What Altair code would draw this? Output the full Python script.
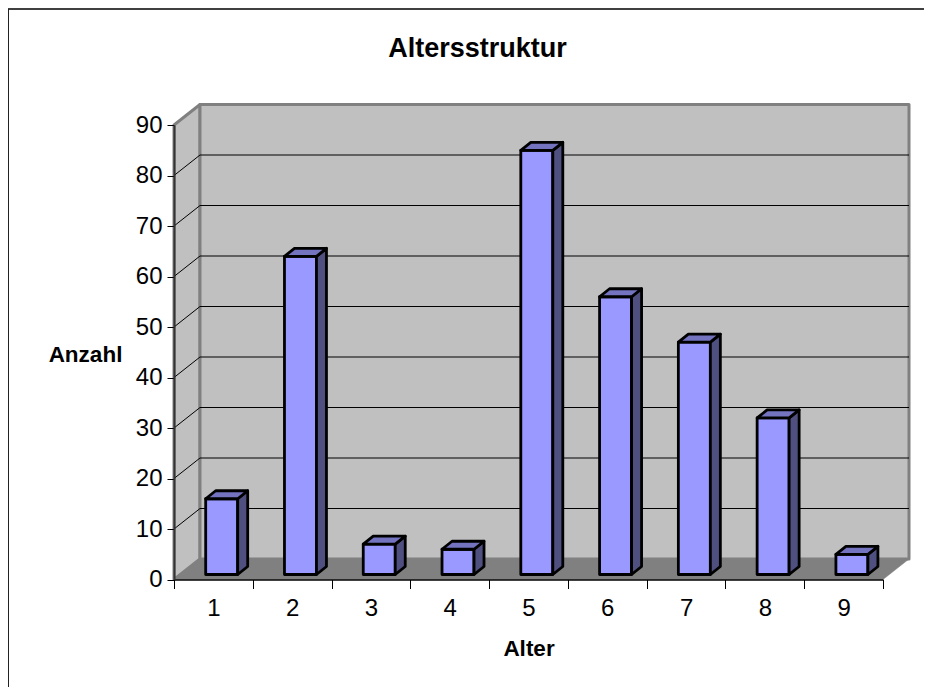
import altair as alt
import pandas as pd

# Values
categories = [1, 2, 3, 4, 5, 6, 7, 8, 9]
counts = [15, 63, 6, 5, 84, 55, 46, 31, 4]
y_ticks = [0, 10, 20, 30, 40, 50, 60, 70, 80, 90]

# Geometry of the pseudo 3D box, in data units
PLOT_W, PLOT_H = 709, 454.5
XU = PLOT_W / 9          # pixels per category
YU = PLOT_H / 90         # pixels per count
WALL_DX = 26 / XU
WALL_DY = 20.5 / YU
BAR_DX = 10 / XU
BAR_DY = 8 / YU
BAR_W = 32 / XU
BAR_SHIFT = 8.3 / XU     # bar centre relative to category centre
BAR_BASE = 5 / YU        # bar base above the axis

FONT = "Liberation Sans"

# ---- polygons as two-edged areas -------------------------------------------
def para_rows(name, rows):
    return [dict(id=name, x=a, lo=b, hi=c) for a, b, c in rows]

wall_rows = para_rows("left", [(0, 0, 90), (WALL_DX, WALL_DY, 90 + WALL_DY)]) + \
    para_rows("back", [(WALL_DX, WALL_DY, 90 + WALL_DY), (9 + WALL_DX, WALL_DY, 90 + WALL_DY)])
walls = pd.DataFrame(wall_rows)

floor = pd.DataFrame(para_rows("floor", [
    (0, 0, 0), (WALL_DX, 0, WALL_DY), (9, 0, WALL_DY), (9 + WALL_DX, WALL_DY, WALL_DY)]))

grid_rows = []
for v in y_ticks[1:-1]:
    grid_rows += [dict(id=v, k=0, x=0, y=v),
                  dict(id=v, k=1, x=WALL_DX, y=v + WALL_DY),
                  dict(id=v, k=2, x=9 + WALL_DX, y=v + WALL_DY)]
grid = pd.DataFrame(grid_rows)

side_rows, top_rows = [], []
for c, v in zip(categories, counts):
    x0 = c - 0.5 + BAR_SHIFT - BAR_W / 2
    x1 = x0 + BAR_W
    low = BAR_BASE
    high = BAR_BASE + v
    side_rows += para_rows(c, [(x1, low, high), (x1 + BAR_DX, low + BAR_DY, high + BAR_DY)])
    top_rows += para_rows(c, [(x0, high, high), (x0 + BAR_DX, high, high + BAR_DY),
                              (x1, high, high + BAR_DY), (x1 + BAR_DX, high + BAR_DY, high + BAR_DY)])
sides = pd.DataFrame(side_rows)
tops = pd.DataFrame(top_rows)
bars = pd.DataFrame({"Alter": categories, "Anzahl": counts, "base": BAR_BASE})
bars["top"] = bars["Anzahl"] + bars["base"]

yscale = alt.Scale(domain=[0, 90], nice=False)
y_axis = alt.Axis(
    title="Anzahl", titleFont=FONT, titleFontSize=22.5, titleFontWeight="bold", titleColor="#000000",
    titleAngle=0, titleAlign="center", titleBaseline="middle", titleX=-89, titleY=229,
    values=y_ticks, labelFont=FONT, labelFontSize=24, labelColor="#000000", labelPadding=5,
    tickSize=7, tickColor="#000000", tickWidth=1, domainColor="#333333", domainWidth=2, grid=False,
    zindex=1)

xq = alt.X("x:Q", scale=alt.Scale(domain=[0, 9], nice=False), axis=None)
yq = alt.Y("hi:Q", scale=yscale, axis=y_axis)
y2q = alt.Y2("lo:Q")

def polygons(df, fill, stroke, width):
    return alt.Chart(df).mark_area(
        fill=fill, stroke=stroke, strokeWidth=width, strokeJoin="round",
        clip=False, interpolate="linear", orient="vertical"
    ).encode(x=xq, y=yq, y2=y2q, detail="id:N")

wall_layer = polygons(walls, "#C0C0C0", "#808080", 3)
floor_layer = polygons(floor, "#808080", "#808080", 0.5)
grid_layer = alt.Chart(grid).mark_line(color="#000000", strokeWidth=1).encode(
    x=xq, y=alt.Y("y:Q", scale=yscale, axis=y_axis), detail="id:N", order="k:Q")
side_layer = polygons(sides, "#4F4F80", "#000000", 2.8)
top_layer = polygons(tops, "#7373BF", "#000000", 2.8)

front_layer = alt.Chart(bars).mark_bar(
    size=32, xOffset=8.3, fill="#9999FF", stroke="#000000", strokeWidth=2.8, strokeJoin="round"
).encode(
    x=alt.X("Alter:O", scale=alt.Scale(paddingInner=0, paddingOuter=0), axis=alt.Axis(
        title="Alter", titleFont=FONT, titleFontSize=22.5, titleFontWeight="bold", titleColor="#000000",
        titlePadding=17, labelFont=FONT, labelFontSize=24, labelColor="#000000", labelAngle=0,
        labelPadding=8, tickBand="extent", tickSize=9, tickColor="#000000", tickWidth=1,
        domainColor="#000000", domainWidth=1.5, grid=False, zindex=1)),
    y=alt.Y("top:Q", scale=yscale, axis=y_axis),
    y2="base:Q",
)

# outer frame of the chart area: only its left and top edges reach the page
frame_data = pd.DataFrame({"a": [0]})
frame_top = alt.Chart(frame_data).mark_rule(color="#000000", strokeWidth=1.5).encode(
    x=alt.value(-166), x2=alt.value(750), y=alt.value(-116))
frame_left = alt.Chart(frame_data).mark_rule(color="#222222", strokeWidth=2).encode(
    x=alt.value(-166), y=alt.value(-116), y2=alt.value(562))

chart = alt.layer(
    frame_top, frame_left, wall_layer, grid_layer, floor_layer, front_layer, side_layer, top_layer
).resolve_scale(x="independent").properties(
    width=PLOT_W, height=PLOT_H,
    title=alt.TitleParams("Altersstruktur", font=FONT, fontSize=27, fontWeight="bold",
                          color="#000000", anchor="middle", dx=-51, dy=59),
    autosize=alt.AutoSizeParams(type="none"),
    padding={"left": 166, "top": 117, "right": 41, "bottom": 107},
    background="#FFFFFF",
).configure_view(stroke=None)

chart.save("out.html", embed_options={"renderer": "svg", "actions": False})
